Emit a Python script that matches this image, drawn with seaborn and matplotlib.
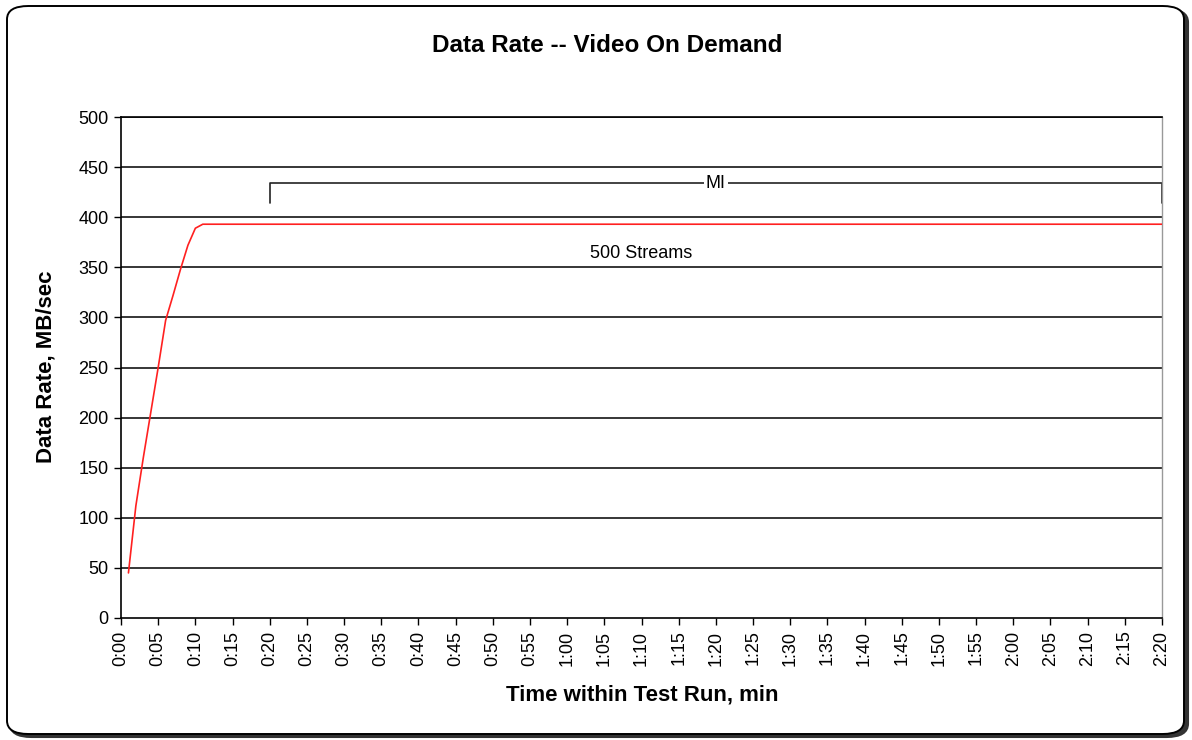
import matplotlib
matplotlib.use("Agg")
import matplotlib.pyplot as plt
import seaborn as sns
import pandas as pd
from matplotlib.patches import FancyBboxPatch

# data (minutes, MB/sec)
minutes = [1, 2, 3, 4, 5, 6, 7, 8, 9, 10, 11, 12, 20, 40, 60, 80, 100, 120, 140]
rate = [45, 112, 160, 205, 250, 297, 322, 348, 372, 389, 393, 393, 393, 393, 393, 393, 393, 393, 393]
tick_minutes = list(range(0, 141, 5))
tick_labels = [f"{m // 60}:{m % 60:02d}" for m in tick_minutes]
mi_start, mi_end, mi_level = 20, 140, 434
series_label = "500 Streams"

df = pd.DataFrame({"Time": minutes, "Rate": rate})

sns.set_style("white")
plt.rcParams["font.family"] = ["Liberation Sans", "DejaVu Sans"]
plt.rcParams["text.color"] = "black"
plt.rcParams["axes.labelcolor"] = "black"
plt.rcParams["xtick.color"] = "black"
plt.rcParams["ytick.color"] = "black"

fig = plt.figure(figsize=(11.92, 7.4), dpi=100)
ax = fig.add_axes([121 / 1192, 1 - 618 / 740, (1162 - 121) / 1192, (618 - 117) / 740])

# rounded chart frame with a small shadow
shadow = FancyBboxPatch((10 / 1192, 3 / 740), 1178 / 1192, 728 / 740,
                        boxstyle="round,pad=0,rounding_size=0.018",
                        transform=fig.transFigure, fill=True, facecolor="#333333",
                        edgecolor="#333333", linewidth=1.5, zorder=-3)
frame = FancyBboxPatch((7 / 1192, 6 / 740), 1177 / 1192, 728 / 740,
                       boxstyle="round,pad=0,rounding_size=0.018",
                       transform=fig.transFigure, fill=True, facecolor="white",
                       edgecolor="black", linewidth=1.4, zorder=-2)
fig.patches.append(shadow)
fig.patches.append(frame)

for y in range(50, 501, 50):
    ax.axhline(y, color="black", linewidth=1.1, zorder=1)

sns.lineplot(data=df, x="Time", y="Rate", color="#ff2020", linewidth=1.2, ax=ax, zorder=3)

# MI bracket
ax.plot([mi_start, mi_start, mi_end, mi_end], [mi_level - 20, mi_level, mi_level, mi_level - 20],
        color="#222222", linewidth=1.2, zorder=2)
ax.text(80, mi_level, "MI", ha="center", va="center", fontsize=13,
        bbox=dict(facecolor="white", edgecolor="none", pad=1.5), zorder=4)
ax.text(70, 364, series_label, ha="center", va="center", fontsize=13)

ax.set_xlim(0, 140)
ax.set_ylim(0, 500)
ax.set_xticks(tick_minutes)
ax.set_xticklabels(tick_labels, rotation=90, fontsize=13)
ax.set_yticks(range(0, 501, 50))
ax.tick_params(axis="y", labelsize=13, length=5, width=1, direction="out", left=True, pad=4)
ax.tick_params(axis="x", length=5, width=1, direction="out", bottom=True, pad=4)

for side in ["left", "bottom", "top"]:
    ax.spines[side].set_color("black")
    ax.spines[side].set_linewidth(1.2)
ax.spines["right"].set_color("#999999")
ax.spines["right"].set_linewidth(1)

ax.set_xlabel("Time within Test Run, min", fontsize=16, fontweight="bold")
ax.set_ylabel("Data Rate, MB/sec", fontsize=16, fontweight="bold")
ax.xaxis.set_label_coords((642 - 121) / 1041, (618 - 695) / 501)
ax.xaxis.label.set_va("center")
ax.yaxis.set_label_coords((46 - 121) / 1041, (618 - 367) / 501)
ax.yaxis.label.set_va("center")
fig.text(607 / 1192, 1 - 45 / 740, "Data Rate -- Video On Demand", ha="center", va="center",
         fontsize=17.5, fontweight="bold")

fig.savefig("out.png", dpi=100)
